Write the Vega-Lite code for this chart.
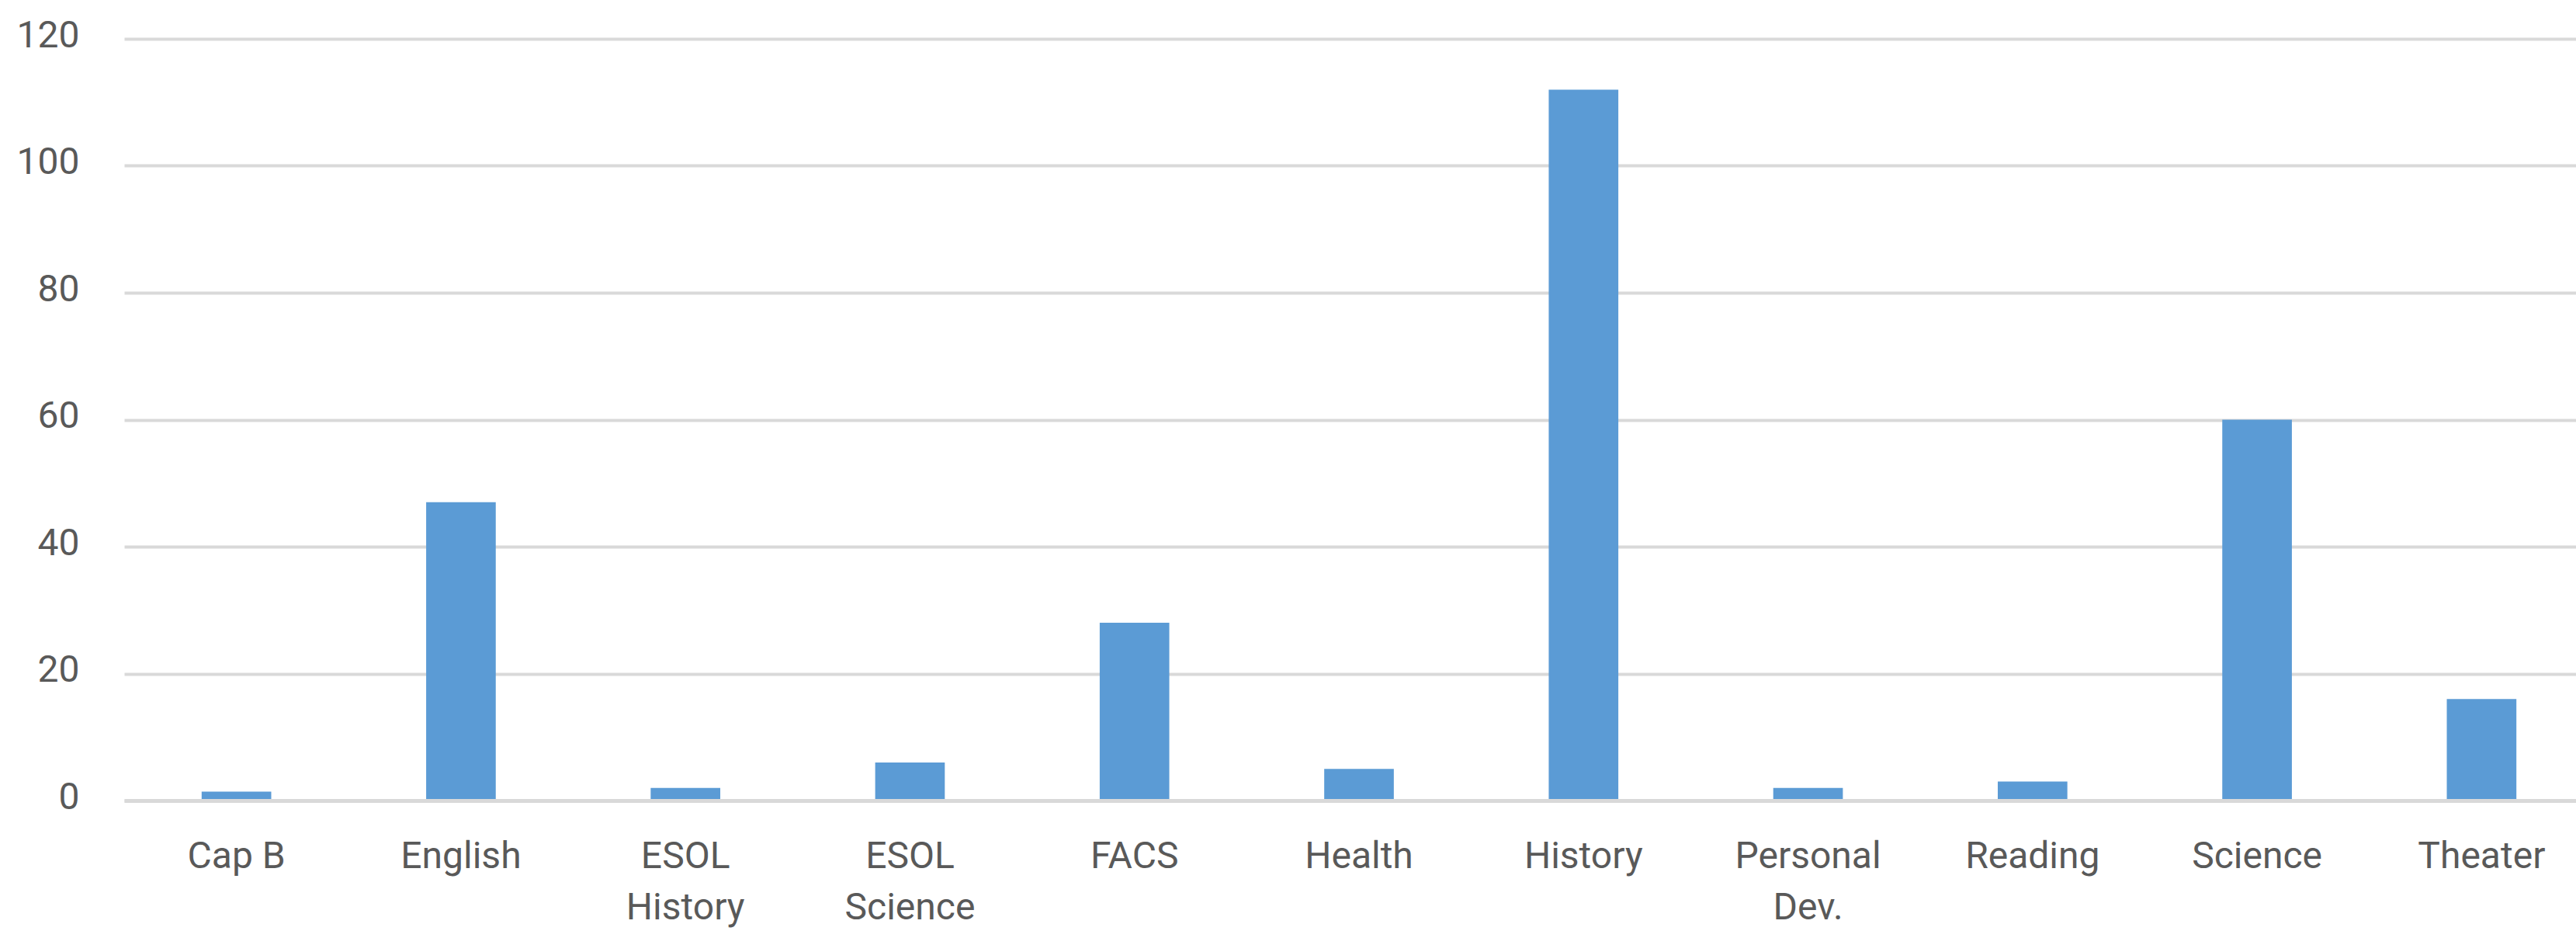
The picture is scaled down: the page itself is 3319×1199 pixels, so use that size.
{
  "$schema": "https://vega.github.io/schema/vega-lite/v6.json",
  "autosize": {"type": "none"},
  "padding": {"left": 160, "top": 50, "right": 0, "bottom": 168},
  "width": 3159,
  "height": 981,
  "background": "white",
  "config": {
    "view": {"stroke": null},
    "font": "Roboto"
  },
  "data": {
    "values": [
      {"subject": "Cap B", "count": 1.4},
      {"subject": "English", "count": 47},
      {"subject": "ESOL History", "count": 2},
      {"subject": "ESOL Science", "count": 6},
      {"subject": "FACS", "count": 28},
      {"subject": "Health", "count": 5},
      {"subject": "History", "count": 112},
      {"subject": "Personal Dev.", "count": 2},
      {"subject": "Reading", "count": 3},
      {"subject": "Science", "count": 60},
      {"subject": "Theater", "count": 16}
    ]
  },
  "mark": {"type": "bar", "color": "#5B9BD5"},
  "encoding": {
    "x": {
      "field": "subject",
      "type": "nominal",
      "sort": null,
      "scale": {"range": [0, 3182], "paddingInner": 0.69, "paddingOuter": 0.345},
      "axis": {
        "title": null,
        "labelAngle": 0,
        "labelFont": "Roboto",
        "labelFontSize": 48,
        "labelColor": "#595959",
        "labelPadding": 48,
        "labelBaseline": "top",
        "labelLineHeight": 66,
        "labelLimit": 600,
        "labelExpr": "datum.label == 'Cap B' ? datum.label : split(datum.label, ' ')",
        "ticks": false,
        "grid": false,
        "domain": true,
        "domainColor": "#d9d9d9",
        "domainWidth": 5,
        "zindex": 1,
        "labelOverlap": false
      }
    },
    "y": {
      "field": "count",
      "type": "quantitative",
      "scale": {"domain": [0, 120], "nice": false},
      "axis": {
        "title": null,
        "values": [0, 20, 40, 60, 80, 100, 120],
        "labelFont": "Roboto",
        "labelFontSize": 48,
        "labelColor": "#595959",
        "labelPadding": 58,
        "labelOffset": -4,
        "ticks": false,
        "domain": false,
        "grid": true,
        "gridColor": "#d9d9d9",
        "gridWidth": 4,
        "zindex": 0
      }
    }
  }
}
